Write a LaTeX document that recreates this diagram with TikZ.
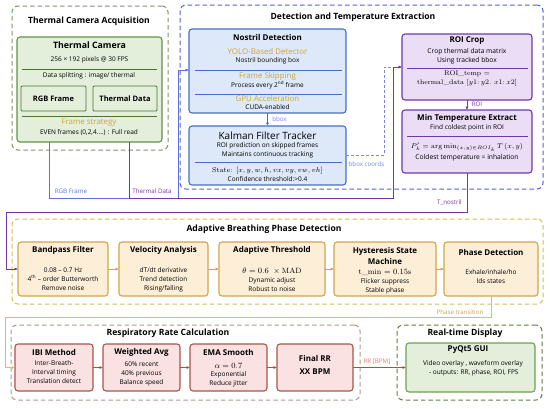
\documentclass[tikz,border=0pt]{standalone}
\usepackage{fontspec}
\setsansfont{Open Sans}
\usetikzlibrary{arrows.meta}
\definecolor{grpgreen}{RGB}{125,150,105}
\definecolor{camborder}{RGB}{100,145,70}
\definecolor{camfill}{RGB}{227,239,219}
\definecolor{darkgreen}{RGB}{75,115,50}
\definecolor{grpblue}{RGB}{85,95,225}
\definecolor{nbfill}{RGB}{221,232,248}
\definecolor{nbborder}{RGB}{70,110,200}
\definecolor{goldtxt}{RGB}{205,165,60}
\definecolor{purp}{RGB}{115,55,170}
\definecolor{purpfill}{RGB}{235,221,246}
\definecolor{rgbblue}{RGB}{95,110,225}
\definecolor{lblue}{RGB}{120,135,225}
\definecolor{grpgold}{RGB}{205,195,80}
\definecolor{orfill}{RGB}{252,238,215}
\definecolor{orborder}{RGB}{210,165,75}
\definecolor{orarrow}{RGB}{220,165,45}
\definecolor{phaseline}{RGB}{225,190,80}
\definecolor{grpred}{RGB}{175,150,140}
\definecolor{rdfill}{RGB}{250,225,226}
\definecolor{rdborder}{RGB}{170,85,75}
\definecolor{rdarrow}{RGB}{160,85,60}
\definecolor{rrlabel}{RGB}{215,125,115}
\definecolor{grpdkgreen}{RGB}{95,125,65}
\definecolor{guiborder}{RGB}{110,160,80}
\newcommand\mybox[6]{\node[#2, minimum width={(#5-#3)*1pt}, minimum height={(#6-#4)*1pt}] (#1) at ({(#3+#5)/2},{(#4+#6)/2}) {};}
\tikzset{
  grp/.style={draw, dash pattern=on 4.5pt off 3pt, line width=1pt, rounded corners=6pt, inner sep=0pt, outer sep=0pt},
  bbox/.style={draw, line width=1.1pt, rounded corners=3pt, inner sep=0pt, outer sep=0pt},
  conn/.style={line width=0.9pt, -{Latex[length=3.5pt,width=3.2pt]}},
  gtitle/.style={font=\sffamily\bfseries\fontsize{8.6}{9.6}\selectfont, inner sep=0pt},
  btitle/.style={font=\sffamily\bfseries\fontsize{8}{10.5}\selectfont, inner sep=0pt, align=center},
  stext/.style={font=\sffamily\fontsize{6.5}{9}\selectfont, inner sep=0pt, align=center},
  goldt/.style={font=\sffamily\fontsize{7.9}{8.8}\selectfont, text=goldtxt, inner sep=0pt},
  mtext/.style={font=\rmfamily\fontsize{7}{9}\selectfont, inner sep=0pt, align=center},
  lbl/.style={font=\sffamily\fontsize{6.2}{7}\selectfont, inner sep=0pt},
  sepl/.style={line width=0.9pt}
}
\begin{document}
\begin{tikzpicture}[x=1pt,y=-1pt]
\useasboundingbox (0,0) rectangle (550,408);

% ---------------- groups
\mybox{gcam}{grp, draw=grpgreen}{12}{6}{168}{150}
\mybox{gdet}{grp, draw=grpblue}{180}{5}{543}{189}
\mybox{gphase}{grp, draw=grpgold}{12}{219}{543}{304}
\mybox{grr}{grp, draw=grpred}{11}{325}{360}{400}
\mybox{gdisp}{grp, draw=grpdkgreen}{397}{325}{542}{400}

\node[gtitle] (tgcam) at (89,21) {Thermal Camera Acquisition};
\node[gtitle] (tgdet) at (353,17) {Detection and Temperature Extraction};
\node[gtitle] (tgphase) at (264,229) {Adaptive Breathing Phase Detection};
\node[gtitle] (tgrr) at (168,333) {Respiratory Rate Calculation};
\node[gtitle] (tgdisp) at (465,333) {Real-time Display};

% ---------------- thermal camera
\mybox{cam}{bbox, draw=camborder, fill=camfill}{17}{37}{162}{142}
\node[btitle, font=\sffamily\bfseries\fontsize{8.8}{10}\selectfont] (tcam) at (89.5,45) {Thermal Camera};
\node[stext] (tcam1) at (89.5,60) {256 × 192 pixels @ 30 FPS};
\draw[sepl, darkgreen] (22,69) -- (157,69);
\node[stext] (tcam2) at (89,76) {Data splitting : image/ thermal};
\mybox{rgbf}{bbox, draw=darkgreen, fill=camfill, line width=0.9pt, rounded corners=1pt}{21}{86}{86}{111}
\node[btitle, font=\sffamily\bfseries\fontsize{7.5}{8}\selectfont] (trgbf) at (rgbf) {RGB Frame};
\mybox{thd}{bbox, draw=darkgreen, fill=camfill, line width=0.9pt, rounded corners=1pt}{93}{86}{157}{111}
\node[btitle, font=\sffamily\bfseries\fontsize{7.5}{8}\selectfont] (tthd) at (thd) {Thermal Data};
\draw[sepl, darkgreen] (22,116) -- (157,116);
\node[goldt] (tcam3) at (89,123) {Frame strategy};
\node[stext] (tcam4) at (89,133) {EVEN frames (0,2,4....) : Full read};

% ---------------- nostril detection
\mybox{nostril}{bbox, draw=nbborder, fill=nbfill}{189}{29}{346}{113}
\node[btitle] (tnos) at (267.5,37) {Nostril Detection};
\node[goldt] (tnos1) at (267.5,52) {YOLO-Based Detector};
\node[stext] (tnos2) at (267.5,61) {Nostril bounding box};
\draw[sepl, nbborder] (195,70) -- (342,70);
\node[goldt] (tnos3) at (267.5,76) {Frame Skipping};
\node[stext] (tnos4) at (267.5,85) {Process every 2\textsuperscript{nd} frame};
\draw[sepl, nbborder] (195,94) -- (342,94);
\node[goldt] (tnos5) at (267.5,99) {GPU Acceleration};
\node[stext] (tnos6) at (267.5,107) {CUDA-enabled};

% ---------------- kalman
\mybox{kalman}{bbox, draw=nbborder, fill=nbfill}{189}{126}{346}{185}
\node[inner sep=0pt, font=\sffamily\fontsize{10}{11}\selectfont] (tkal) at (267.5,136) {Kalman Filter Tracker};
\node[stext] (tkal1) at (267.5,150.5) {ROI prediction on skipped frames\\Maintains continuous tracking};
\draw[sepl, nbborder] (195,162) -- (342,162);
\node[mtext] (tkal2) at (267.5,171) {State: $[x, y, w, h, vx, vy, vw, vh]$};
\node[stext] (tkal3) at (267.5,179.5) {Confidence threshold:>0.4};

% ---------------- ROI crop
\mybox{roi}{bbox, draw=purp, fill=purpfill}{402}{34}{532}{100}
\node[btitle] (troi) at (467,41) {ROI Crop};
\node[stext, font=\sffamily\fontsize{6.7}{9}\selectfont] (troi1) at (467,56.5) {Crop thermal data matrix\\Using tracked bbox};
\draw[sepl, purp] (407,68) -- (528,68);
\node[mtext, font=\rmfamily\fontsize{6.8}{9}\selectfont] (troi2) at (467,78.5) {ROI\_temp =\\thermal\_data [$y1\colon y2.\ x1\colon x2$]};

% ---------------- min temp
\mybox{mint}{bbox, draw=purp, fill=purpfill}{402}{110}{532}{173}
\node[btitle] (tmin) at (467,118) {Min Temperature Extract};
\node[stext] (tmin1) at (467,128) {Find coldest point in ROI};
\draw[sepl, purp] (407,136) -- (528,136);
\node[mtext] (tmin2) at (467,147) {$P_k' = \arg\min_{(x,y)\in ROI_k} T\,(x,y)$};
\node[stext, font=\sffamily\fontsize{6.7}{9}\selectfont] (tmin3) at (467,158) {Coldest temperature = inhalation};

% ---------------- phase row
\mybox{bp}{bbox, draw=orborder, fill=orfill}{18}{242}{108}{296}
\mybox{va}{bbox, draw=orborder, fill=orfill}{119}{242}{208}{296}
\mybox{at}{bbox, draw=orborder, fill=orfill}{219}{242}{325}{296}
\mybox{hs}{bbox, draw=orborder, fill=orfill}{334}{242}{436}{296}
\mybox{pd}{bbox, draw=orborder, fill=orfill}{444}{242}{538}{296}
\node[btitle] (tbp) at (63,250) {Bandpass Filter};
\node[stext] (tbp1) at (63,279) {0.08 – 0.7 Hz\\4\textsuperscript{th} – order Butterworth\\Remove noise};
\node[btitle] (tva) at (163.5,250) {Velocity Analysis};
\node[stext] (tva1) at (163.5,280) {dT/dt derivative\\Trend detection\\Rising/falling};
\node[btitle] (tat) at (272,250) {Adaptive Threshold};
\node[mtext, font=\rmfamily\fontsize{7.6}{9}\selectfont] (tat1) at (272,271) {$\theta = 0.6\ \times \mathrm{MAD}$};
\node[stext] (tat2) at (272,284.5) {Dynamic adjust\\Robust to noise};
\node[btitle] (ths) at (385,256) {Hysteresis State\\Machine};
\node[mtext, font=\rmfamily\fontsize{7.6}{9}\selectfont] (ths1) at (385,272.5) {t\_min $= 0.15$s};
\node[stext] (ths2) at (385,286.5) {Flicker suppress\\Stable phase};
\node[btitle] (tpd) at (491,252) {Phase Detection};
\node[stext] (tpd1) at (491,276.5) {Exhale/inhale/ho\\lds states};

% ---------------- rr row
\mybox{ibi}{bbox, draw=rdborder, fill=rdfill}{15}{344}{93}{391}
\mybox{wa}{bbox, draw=rdborder, fill=rdfill}{103}{344}{180}{391}
\mybox{ema}{bbox, draw=rdborder, fill=rdfill}{190}{344}{267}{391}
\mybox{frr}{bbox, draw=rdborder, fill=rdfill}{277}{344}{353}{391}
\node[btitle] (tibi) at (54,352) {IBI Method};
\node[stext] (tibi1) at (54,372) {Inter-Breath-\\Interval timing\\Translation detect};
\node[btitle] (twa) at (141.5,352) {Weighted Avg};
\node[stext] (twa1) at (141.5,374) {60\% recent\\40\% previous\\Balance speed};
\node[btitle] (tema) at (228.5,352) {EMA Smooth};
\node[mtext, font=\rmfamily\fontsize{7.6}{9}\selectfont] (tema1) at (228.5,366) {$\alpha = 0.7$};
\node[stext] (tema2) at (228.5,379) {Exponential\\Reduce jitter};
\node[btitle, font=\sffamily\bfseries\fontsize{8}{13}\selectfont] (tfrr) at (315,364.5) {Final RR\\XX BPM};

% ---------------- gui
\mybox{gui}{bbox, draw=guiborder, fill=camfill}{406}{343}{535}{392}
\node[btitle] (tgui) at (468,350) {PyQt5 GUI};
\node[stext] (tgui1) at (473,368.5) {Video overlay , waveform overlay\\\ - outputs: RR, phase, ROI, FPS};

% ---------------- connectors
\coordinate (rgbA) at (49,142);
\coordinate (rgbB) at (49,198);
\coordinate (rgbC) at (178,198);
\coordinate (rgbD) at (178,70);
\draw[conn, rgbblue] (rgbA) -- (rgbB) -- (rgbC) -- (rgbD) -- (nostril.west |- rgbD);
\node[lbl, text=rgbblue] (lrgb) at (71,191) {RGB Frame};

\coordinate (bcA) at (384,155);
\coordinate (bcB) at (384,67);
\draw[conn, lblue, dash pattern=on 3pt off 2pt] (kalman.east |- bcA) -- (bcA) -- (bcB) -- (roi.west |- bcB);
\node[lbl, text=lblue] (lbc) at (366.5,164) {bbox coords};

\coordinate (thA) at (129,142);
\coordinate (thB) at (129,198);
\coordinate (thC) at (393,198);
\coordinate (thD) at (393,67);
\draw[conn, purp] (thA) -- (thB) -- (thC) -- (thD) -- (roi.west |- thD);
\node[lbl, text=purp] (lthd) at (152,191) {Thermal Data};

\draw[conn, nbborder] (nostril) -- (kalman);
\node[lbl, text=lblue] (lbbox) at (279.5,119) {bbox};
\draw[conn, purp] (roi) -- (mint);
\node[lbl, text=purp] (lroi) at (477,104) {ROI};

\coordinate (tnA) at (467,212);
\coordinate (tnB) at (6,212);
\coordinate (tnC) at (6,269);
\draw[conn, purp] (mint.south) -- (tnA) -- (tnB) -- (tnC) -- (bp.west |- tnC);
\node[lbl, text=purp] (ltn) at (449.5,203) {T\_nostril};

\draw[conn, orarrow] (bp) -- (va);
\draw[conn, orarrow] (va) -- (at);
\draw[conn, orarrow] (at) -- (hs);
\draw[conn, orarrow] (hs) -- (pd);

\coordinate (ptA) at (491,317);
\coordinate (ptB) at (5,317);
\coordinate (ptC) at (5,367.5);
\draw[conn, phaseline] (pd.south) -- (ptA) -- (ptB) -- (ptC) -- (ibi.west |- ptC);
\node[lbl, text=goldtxt] (lpt) at (460,312) {Phase transition};

\draw[conn, rdarrow] (ibi) -- (wa);
\draw[conn, rdarrow] (wa) -- (ema);
\draw[conn, rdarrow] (ema) -- (frr);
\draw[conn, rdarrow] (frr) -- (gui);
\node[lbl, text=rrlabel] (lrr) at (377,362) {RR [BPM]};
\end{tikzpicture}
\end{document}
